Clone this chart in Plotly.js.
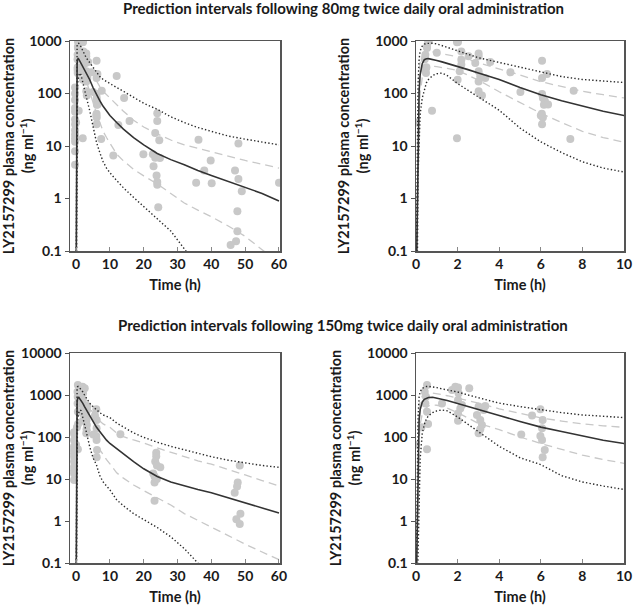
<!DOCTYPE html>
<html>
<head>
<meta charset="utf-8">
<script src="https://cdn.plot.ly/plotly-3.0.1.min.js"></script>
<style>html,body{margin:0;padding:0;background:#fff;}#chart{width:634px;height:609px;}</style>
</head>
<body>
<div id="chart"></div>
<script>
// ---------- DATA ----------
// Model time grid (h) shared by prediction-interval curves
const timeGrid = [0, 0.05, 0.1, 0.15, 0.2, 0.3, 0.4, 0.5, 0.6, 0.8, 1, 1.25, 1.5, 2, 2.5, 3, 4, 5, 6, 7, 8, 9, 10, 12, 14, 17, 20, 24, 28, 32, 36, 40, 45, 50, 55, 60];

// 80 mg prediction intervals (ng/ml)
const median80 = [0.01, 0.3, 15, 110, 230, 370, 440, 460, 462, 450, 425, 400, 375, 330, 285, 245, 185, 130, 95, 73, 57, 46, 38, 28, 21, 14.5, 10.5, 7.2, 5.5, 4.4, 3.4, 2.75, 2.1, 1.65, 1.25, 0.9];
const upper95_80 = [0.02, 2, 150, 450, 650, 800, 870, 900, 910, 905, 880, 820, 760, 660, 560, 480, 390, 320, 260, 210, 185, 168, 155, 130, 110, 85, 65, 50, 36, 28, 22.5, 19, 15.5, 13.5, 12, 10.5];
const upper75_80 = [0.01, 0.8, 60, 250, 400, 530, 590, 615, 625, 620, 600, 575, 550, 500, 440, 385, 300, 225, 168, 135, 110, 95, 85, 62, 46, 31, 23, 17, 13, 10.5, 9, 7.8, 6.3, 5.3, 4.5, 3.8];
const lower25_80 = [0.005, 0.1, 5, 40, 100, 200, 260, 295, 315, 330, 325, 315, 300, 275, 225, 180, 108, 68, 42, 28, 19, 14.5, 11.6, 7, 5.2, 3.6, 2.7, 1.9, 1.25, 0.82, 0.6, 0.45, 0.3, 0.19, 0.106, 0.06];
const lower5_80 = [0.001, 0.01, 3, 18, 40, 82, 120, 160, 185, 220, 238, 245, 220, 155, 115, 87, 48, 22, 12, 7.5, 5, 3.8, 3.1, 2.2, 1.6, 1.05, 0.7, 0.42, 0.24, 0.11, 0.05, 0.03, 0.02, 0.01, 0.005, 0.003];

// 150 mg prediction intervals (ng/ml)
const median150 = [0.01, 0.5, 30, 250, 450, 680, 790, 850, 875, 880, 840, 790, 740, 630, 530, 450, 325, 235, 172, 135, 105, 84, 70, 52, 39, 26, 17.5, 11.5, 8.5, 6.8, 5.6, 4.7, 3.6, 2.7, 2.05, 1.55];
const upper95_150 = [0.02, 3, 300, 900, 1200, 1450, 1550, 1600, 1600, 1570, 1500, 1400, 1320, 1180, 1000, 850, 640, 530, 440, 380, 335, 310, 290, 215, 170, 125, 98, 75, 60, 49, 41, 34, 28, 24, 21, 19];
const upper75_150 = [0.01, 1, 100, 450, 700, 950, 1050, 1100, 1120, 1110, 1080, 1020, 960, 850, 740, 640, 470, 360, 285, 240, 205, 185, 170, 125, 102, 85, 72, 55, 43, 34, 27, 22.5, 17, 12.5, 9.2, 6.8];
const lower25_150 = [0.01, 0.2, 10, 80, 200, 350, 450, 510, 550, 575, 570, 540, 490, 380, 280, 210, 150, 100, 70, 50, 37, 29, 23, 14, 10.5, 7.2, 5.3, 3.6, 2.4, 1.5, 1.05, 0.72, 0.45, 0.28, 0.18, 0.12];
const lower5_150 = [0.001, 0.02, 0.5, 5, 30, 120, 200, 270, 320, 380, 420, 440, 420, 300, 200, 135, 60, 32, 22, 12, 8.5, 6.8, 5.5, 3.2, 2.3, 1.5, 1.1, 0.7, 0.42, 0.22, 0.1, 0.05, 0.025, 0.012, 0.006, 0.003];

// Observed concentrations, 80 mg
const obsTime80 = [-0.3, -0.3, -0.3, -0.3, -0.3, -0.3, -0.3, -0.3, -0.3, -0.3, -0.3, -0.3, -0.3, 0,
  0.61, 0.53, 0.45, 0.48, 0.48, 0.77, 1.0, 0.53, 0.58, 0.45, 0.5, 0.42,
  1.97, 2.02, 2.18, 2.18, 2.18, 2.1, 2.0, 1.97,
  2.53, 3.01, 3.01, 2.85, 3.01, 3.09, 3.01, 3.01, 3.17, 3.33, 3.57,
  4.54, 5.02, 6.06, 6.06, 6.3, 6.06, 6.1, 6.2, 6.15, 6.05, 6.1, 6.06, 6.0, 6.35,
  7.58, 7.42,
  12.0, 14.2, 15.8, 12.5, 11.0, 19.9, 22.7, 23.4, 24.0, 24.0, 23.4, 24.6, 24.8, 22.9, 23.8, 24.0, 24.0, 24.3,
  36.2, 35.5, 37.9, 39.8, 40.1, 48.0, 47.0, 48.0, 49.0, 47.7, 47.7, 47.3, 45.7, 60.0];
const obsConc80 = [130, 100, 75, 53, 45, 32, 26, 20, 16.5, 14, 12, 7.9, 4.4, 28,
  1000, 735, 550, 306, 245, 47, 600, 780, 970, 280, 315, 450,
  950, 960, 630, 440, 355, 265, 183, 14,
  510, 580, 510, 380, 265, 213, 170, 110, 92, 198, 398,
  253, 107, 420, 197, 235, 98, 82, 71, 61, 41, 35, 26, 38, 62,
  113, 13.6,
  215, 82, 30, 25, 6.6, 7.0, 7, 6, 42, 30, 17.7, 12.8, 5.9, 4.1, 2.75, 2.06, 1.83, 0.68,
  13.2, 2.0, 3.4, 5.3, 1.95, 11.2, 3.4, 2.35, 1.37, 0.57, 0.237, 0.153, 0.13, 2.0];

// Observed concentrations, 150 mg
const obsTime150 = [-0.6, -0.6, -0.6, -0.6, -0.6, -0.6, -0.6, -0.6, -0.6, -0.6, -0.6, -0.6, 0,
  0.53, 0.53, 0.42, 0.45, 0.53, 0.58, 0.48, 0.26,
  1.25, 1.73, 1.89, 2.02, 2.05, 2.02, 2.13, 2.02, 2.02, 2.21, 2.56,
  3.01, 2.93, 3.09, 3.17, 3.01, 3.25, 3.33, 3.09,
  5.06, 5.58, 5.98, 6.09, 6.06, 5.98, 6.06, 6.19, 6.09,
  13.1, 23.7, 23.7, 23.4, 23.9, 24.9, 22.8, 23.2, 23.9, 23.2, 23.2,
  48.4, 47.8, 47.6, 46.9, 48.6, 47.4, 48.4];
const obsConc150 = [130, 120, 84, 59, 49, 41, 34, 26, 19.5, 16, 13.6, 9.5, 65,
  51, 1740, 1200, 630, 400, 205, 910, 170,
  630, 1320, 1580, 1500, 1100, 760, 480, 365, 245, 575, 1450,
  530, 335, 253, 193, 123, 437, 548, 153,
  115, 325, 458, 253, 162, 105, 85, 49, 33,
  117, 42, 35, 26, 21, 19, 13.6, 11.5, 10, 8.2, 3.05,
  21, 8.2, 6.6, 4.7, 1.48, 1.1, 0.85];

const xTicksLong = [0, 10, 20, 30, 40, 50, 60];
const xTicksShort = [0, 2, 4, 6, 8, 10];
const yTicks80 = [0.1, 1, 10, 100, 1000];
const yTicks150 = [0.1, 1, 10, 100, 1000, 10000];
const rowTitles = ['Prediction intervals following 80mg twice daily oral administration',
                   'Prediction intervals following 150mg twice daily oral administration'];
const xTitle = 'Time (h)';
const yTitle = 'LY2157299 plasma concentration<br>(ng ml<sup>−1</sup>)';

// ---------- STYLE ----------
const FONT = 'Lato, "Open Sans", sans-serif';
const TXT = '#1a1a1a';
const AXC = '#555';
const PT = '#c8c8c8';

function curveParts(xa, ya, med, u95, u75, l25, l5) {
  const dashStyle = {color: '#c8c8c8', width: 1.3, dash: '8px,5px'};
  const dotStyle = {color: '#2a2a2a', width: 1.4, dash: '1.4px,2.2px'};
  return {
    dashed: [
      {x: timeGrid, y: u75, xaxis: xa, yaxis: ya, mode: 'lines', line: dashStyle, hoverinfo: 'skip'},
      {x: timeGrid, y: l25, xaxis: xa, yaxis: ya, mode: 'lines', line: dashStyle, hoverinfo: 'skip'}
    ],
    dark: [
      {x: timeGrid, y: u95, xaxis: xa, yaxis: ya, mode: 'lines', line: dotStyle, hoverinfo: 'skip'},
      {x: timeGrid, y: l5, xaxis: xa, yaxis: ya, mode: 'lines', line: dotStyle, hoverinfo: 'skip'},
      {x: timeGrid, y: med, xaxis: xa, yaxis: ya, mode: 'lines', line: {color: '#333', width: 1.6}, hoverinfo: 'skip'}
    ]
  };
}
function pointTrace(xa, ya, t, c) {
  return {x: t, y: c, xaxis: xa, yaxis: ya, mode: 'markers', marker: {color: PT, size: 8, line: {width: 0}}, cliponaxis: true};
}
function panel(xa, ya, t, c, med, u95, u75, l25, l5) {
  const p = curveParts(xa, ya, med, u95, u75, l25, l5);
  return [].concat(p.dashed, [pointTrace(xa, ya, t, c)], p.dark);
}

const traces = [].concat(
  panel('x', 'y', obsTime80, obsConc80, median80, upper95_80, upper75_80, lower25_80, lower5_80),
  panel('x2', 'y2', obsTime80, obsConc80, median80, upper95_80, upper75_80, lower25_80, lower5_80),
  panel('x3', 'y3', obsTime150, obsConc150, median150, upper95_150, upper75_150, lower25_150, lower5_150),
  panel('x4', 'y4', obsTime150, obsConc150, median150, upper95_150, upper75_150, lower25_150, lower5_150)
);

const W = 634, H = 609;
const tickFont = {family: FONT, size: 14, color: TXT, weight: 700};
const titleFont = {family: FONT, size: 14.5, color: TXT, weight: 700};

function xAxis(domPx, range, ticks, anchor) {
  return {domain: [domPx[0] / W, domPx[1] / W], anchor: anchor, range: range,
    tickvals: ticks, ticktext: ticks.map(String), ticks: 'inside', ticklen: 4, tickwidth: 1, tickcolor: '#888',
    showline: true, linecolor: AXC, linewidth: 1.5, mirror: true, showgrid: false, zeroline: false,
    tickfont: tickFont, title: {text: xTitle, font: titleFont, standoff: 8}, fixedrange: true};
}
function yAxis(domPx, ticks, anchor) {
  const top = Math.log10(ticks[ticks.length - 1]);
  return {domain: [1 - domPx[1] / H, 1 - domPx[0] / H], anchor: anchor, type: 'log', range: [-1, top],
    tickvals: ticks, ticktext: ticks.map(String), ticks: 'outside', ticklen: 4, tickwidth: 1, tickcolor: AXC,
    showline: true, linecolor: AXC, linewidth: 1.5, mirror: true, showgrid: false, zeroline: false,
    tickfont: tickFont, title: {text: yTitle, font: titleFont, standoff: 3}, fixedrange: true};
}

const layout = {
  width: W, height: H, margin: {l: 0, r: 0, t: 0, b: 0},
  paper_bgcolor: '#fff', plot_bgcolor: '#fff', showlegend: false,
  font: {family: FONT, color: TXT},
  xaxis: xAxis([70, 280], [-1.8, 60.3], xTicksLong, 'y'),
  yaxis: yAxis([41, 251], yTicks80, 'x'),
  xaxis2: xAxis([416, 624], [0, 10], xTicksShort, 'y2'),
  yaxis2: yAxis([41, 251], yTicks80, 'x2'),
  xaxis3: xAxis([70, 280], [-1.8, 60.3], xTicksLong, 'y3'),
  yaxis3: yAxis([353, 563], yTicks150, 'x3'),
  xaxis4: xAxis([416, 624], [0, 10], xTicksShort, 'y4'),
  yaxis4: yAxis([353, 563], yTicks150, 'x4'),
  annotations: [
    {text: rowTitles[0], xref: 'paper', yref: 'paper', x: 343 / W, y: 1 - 8 / H, xanchor: 'center', yanchor: 'middle', showarrow: false, font: {family: FONT, size: 15, color: TXT, weight: 700}},
    {text: rowTitles[1], xref: 'paper', yref: 'paper', x: 343 / W, y: 1 - 325 / H, xanchor: 'center', yanchor: 'middle', showarrow: false, font: {family: FONT, size: 15, color: TXT, weight: 700}}
  ]
};

Plotly.newPlot('chart', traces, layout, {staticPlot: true, displayModeBar: false});
</script>
</body>
</html>
